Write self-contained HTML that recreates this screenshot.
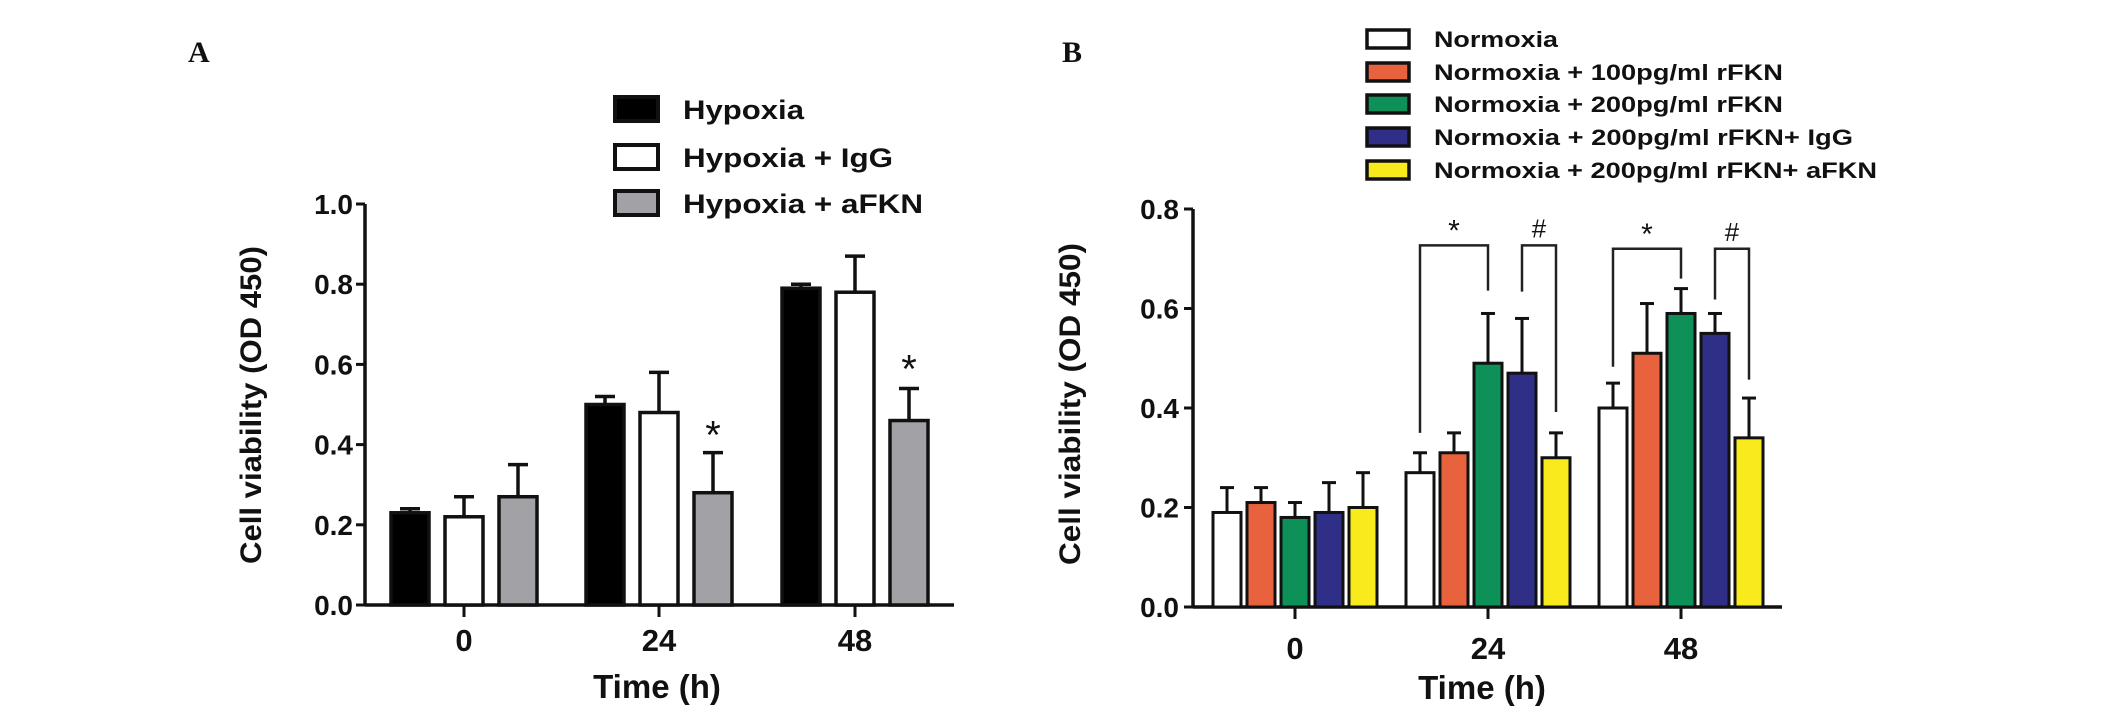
<!DOCTYPE html>
<html><head><meta charset="utf-8"><style>
html,body{margin:0;padding:0;background:#fff;}
svg{display:block;}
text{font-family:"Liberation Sans",Arial,sans-serif;font-weight:bold;fill:#111;}
</style></head><body>
<svg id="fig" width="2126" height="713" viewBox="0 0 2126 713" xmlns="http://www.w3.org/2000/svg">
<text x="188" y="62" style="font-family:'Liberation Serif',serif;font-size:30px">A</text>
<text x="1062" y="62" style="font-family:'Liberation Serif',serif;font-size:30px">B</text>
<g id="chartA"></g>
<g id="chartB"></g>
</svg>
<script>
// ---------- Panel A data ----------
const catsA = ["0","24","48"];
const seriesNamesA = ["Hypoxia","Hypoxia + IgG","Hypoxia + aFKN"];
const hypoxia = [0.23,0.50,0.79];
const hypoxiaErr = [0.24,0.52,0.80];
const hypoxiaIgG = [0.22,0.48,0.78];
const hypoxiaIgGErr = [0.27,0.58,0.87];
const hypoxiaAFKN = [0.27,0.28,0.46];
const hypoxiaAFKNErr = [0.35,0.38,0.54];
const ticksA = [0,0.2,0.4,0.6,0.8,1.0];
const tickLabelsA = ["0.0","0.2","0.4","0.6","0.8","1.0"];
const starsA = [null,0.43,0.595];

// ---------- Panel B data ----------
const catsB = ["0","24","48"];
const seriesNamesB = ["Normoxia","Normoxia + 100pg/ml rFKN","Normoxia + 200pg/ml rFKN","Normoxia + 200pg/ml rFKN+ IgG","Normoxia + 200pg/ml rFKN+ aFKN"];
const normoxia = [0.19,0.27,0.40];
const normoxiaErr = [0.24,0.31,0.45];
const rfkn100 = [0.21,0.31,0.51];
const rfkn100Err = [0.24,0.35,0.61];
const rfkn200 = [0.18,0.49,0.59];
const rfkn200Err = [0.21,0.59,0.64];
const rfknIgG = [0.19,0.47,0.55];
const rfknIgGErr = [0.25,0.58,0.59];
const rfknAFKN = [0.20,0.30,0.34];
const rfknAFKNErr = [0.27,0.35,0.42];
const ticksB = [0,0.2,0.4,0.6,0.8];
const tickLabelsB = ["0.0","0.2","0.4","0.6","0.8"];
const bracketGroup = [1,1,2,2];
const bracketFrom = [0,3,0,3];
const bracketTo = [2,4,2,4];
const bracketTop = [0.727,0.727,0.72,0.72];
const bracketLeftBottom = [0.35,0.634,0.483,0.618];
const bracketRightBottom = [0.636,0.392,0.66,0.457];
const bracketLabel = ["*","#","*","#"];

const NS="http://www.w3.org/2000/svg";
function mk(parent,tag,attrs,txt){const e=document.createElementNS(NS,tag);for(const k in attrs)e.setAttribute(k,attrs[k]);if(txt!==undefined)e.textContent=txt;parent.appendChild(e);return e;}

// ---------- Draw A ----------
(function(){
  const g=document.getElementById('chartA');
  const x0=365,xEnd=954,yZero=605,yTop=204;
  const y=v=>yZero-(v/1.0)*(yZero-yTop);
  const gc=[464,659,855];
  const xg=i=>gc[i];
  const bw=38,step=54;
  const vals=[hypoxia,hypoxiaIgG,hypoxiaAFKN];
  const errs=[hypoxiaErr,hypoxiaIgGErr,hypoxiaAFKNErr];
  const fills=["#000","#fff","#a2a2a6"];
  let e=mk(g,'line',{x1:x0,y1:yTop,x2:x0,y2:yZero,stroke:'#111','stroke-width':3.5});
  
  e=mk(g,'line',{x1:x0,y1:yZero,x2:xEnd,y2:yZero,stroke:'#111','stroke-width':3.5});
  
  ticksA.forEach((t,i)=>{
    mk(g,'line',{x1:x0-9,y1:y(t),x2:x0,y2:y(t),stroke:'#111','stroke-width':3});
    const tl=mk(g,'text',{x:x0-12,y:y(t)+10,'text-anchor':'end','font-size':28},tickLabelsA[i]);
    
  });
  catsA.forEach((c,i)=>{
    mk(g,'line',{x1:xg(i),y1:yZero,x2:xg(i),y2:yZero+12,stroke:'#111','stroke-width':3});
    const tl=mk(g,'text',{x:xg(i),y:yZero+46,'text-anchor':'middle','font-size':31},c);
    
  });
  let t=mk(g,'text',{x:657,y:698,'text-anchor':'middle','font-size':33},'Time (h)');
  
  t=mk(g,'text',{x:0,y:0,'text-anchor':'middle','font-size':30,textLength:318,lengthAdjust:'spacingAndGlyphs',transform:'translate(261,405) rotate(-90)'},'Cell viability (OD 450)');
  
  for(let s=0;s<3;s++){
    for(let i=0;i<3;i++){
      const cx=xg(i)+(s-1)*step;
      const ey=mk(g,'line',{x1:cx,y1:y(vals[s][i]),x2:cx,y2:y(errs[s][i]),stroke:'#111','stroke-width':3.5});
      
      mk(g,'line',{x1:cx-10,y1:y(errs[s][i]),x2:cx+10,y2:y(errs[s][i]),stroke:'#111','stroke-width':3.5});
      const r=mk(g,'rect',{x:cx-bw/2,y:y(vals[s][i]),width:bw,height:yZero-y(vals[s][i]),fill:fills[s],stroke:'#111','stroke-width':3.5});
      
    }
  }
  starsA.forEach((v,i)=>{ if(v===null)return;
    const st=mk(g,'text',{x:xg(i)+step,y:y(v)+16,'text-anchor':'middle','font-size':40,style:'font-weight:normal'},'*');
    
  });
  const legY=[109,157,203],legW=[121,210,240];
  seriesNamesA.forEach((n,i)=>{
    const r=mk(g,'rect',{x:615,y:legY[i]-12,width:43,height:24,fill:fills[i],stroke:'#111','stroke-width':4});
    
    const tx=mk(g,'text',{x:683,y:legY[i]+10,'font-size':27,textLength:legW[i],lengthAdjust:'spacingAndGlyphs'},n);
    
  });
})();

// ---------- Draw B ----------
(function(){
  const g=document.getElementById('chartB');
  const x0=1193,xEnd=1782,yZero=607,yTop=209;
  const y=v=>yZero-(v/0.8)*(yZero-yTop);
  const gc=[1295,1488,1681];
  const xg=i=>gc[i];
  const bw=28,step=34;
  const vals=[normoxia,rfkn100,rfkn200,rfknIgG,rfknAFKN];
  const errs=[normoxiaErr,rfkn100Err,rfkn200Err,rfknIgGErr,rfknAFKNErr];
  const fills=["#fff","#e8623d","#0e9159","#2f2f87","#f8ea1c"];
  const bx=(gi,s)=>xg(gi)+(s-2)*step;
  let e=mk(g,'line',{x1:x0,y1:yTop,x2:x0,y2:yZero,stroke:'#111','stroke-width':3.5});
  
  e=mk(g,'line',{x1:x0,y1:yZero,x2:xEnd,y2:yZero,stroke:'#111','stroke-width':3.5});
  
  ticksB.forEach((t,i)=>{
    mk(g,'line',{x1:x0-9,y1:y(t),x2:x0,y2:y(t),stroke:'#111','stroke-width':3});
    const tl=mk(g,'text',{x:x0-14,y:y(t)+10,'text-anchor':'end','font-size':28},tickLabelsB[i]);
    
  });
  catsB.forEach((c,i)=>{
    mk(g,'line',{x1:xg(i),y1:yZero,x2:xg(i),y2:yZero+12,stroke:'#111','stroke-width':3});
    const tl=mk(g,'text',{x:xg(i),y:yZero+52,'text-anchor':'middle','font-size':31},c);
    
  });
  let t=mk(g,'text',{x:1482,y:699,'text-anchor':'middle','font-size':33},'Time (h)');
  
  t=mk(g,'text',{x:0,y:0,'text-anchor':'middle','font-size':30,textLength:322,lengthAdjust:'spacingAndGlyphs',transform:'translate(1080,404) rotate(-90)'},'Cell viability (OD 450)');
  
  for(let s=0;s<5;s++){
    for(let i=0;i<3;i++){
      const cx=bx(i,s);
      const ey=mk(g,'line',{x1:cx,y1:y(vals[s][i]),x2:cx,y2:y(errs[s][i]),stroke:'#111','stroke-width':3});
      
      mk(g,'line',{x1:cx-7,y1:y(errs[s][i]),x2:cx+7,y2:y(errs[s][i]),stroke:'#111','stroke-width':3});
      const r=mk(g,'rect',{x:cx-bw/2,y:y(vals[s][i]),width:bw,height:yZero-y(vals[s][i]),fill:fills[s],stroke:'#111','stroke-width':3});
      
    }
  }
  bracketGroup.forEach((gi,k)=>{
    const xa=bx(gi,bracketFrom[k]),xb=bx(gi,bracketTo[k]);
    const p=mk(g,'polyline',{points:`${xa},${y(bracketLeftBottom[k])} ${xa},${y(bracketTop[k])} ${xb},${y(bracketTop[k])} ${xb},${y(bracketRightBottom[k])}`,fill:'none',stroke:'#222','stroke-width':2.5});
    
    const lb=mk(g,'text',{x:(xa+xb)/2,y:y(bracketTop[k])-(bracketLabel[k]==='*'?5:8),'text-anchor':'middle','font-size':bracketLabel[k]==='*'?30:26,style:'font-weight:normal'},bracketLabel[k]);
    
  });
  const legY=[39,72,104,137,170],legW=[124,349,349,419,443];
  seriesNamesB.forEach((n,i)=>{
    const r=mk(g,'rect',{x:1367,y:legY[i]-9,width:42,height:18,fill:fills[i],stroke:'#111','stroke-width':3.5});
    
    const tx=mk(g,'text',{x:1434,y:legY[i]+8,'font-size':22,textLength:legW[i],lengthAdjust:'spacingAndGlyphs'},n);
    
  });
})();
</script>
</body></html>
